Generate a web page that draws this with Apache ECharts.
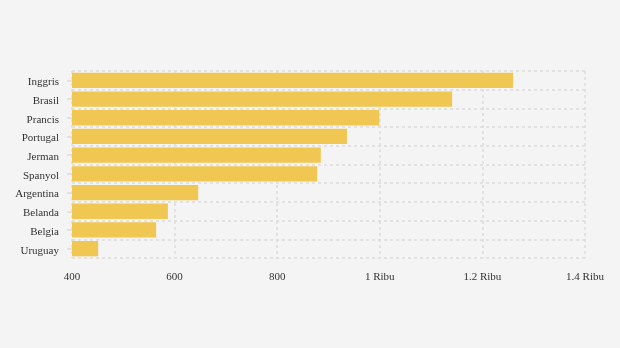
<!DOCTYPE html>
<html><head><meta charset="utf-8">
<script src="https://cdn.jsdelivr.net/npm/echarts@6/dist/echarts.min.js"></script>
<style>html,body{margin:0;padding:0;background:#f4f4f4;}#c{width:620px;height:348px;}</style>
</head><body><div id="c"></div>
<script>
const categories = ["Inggris","Brasil","Prancis","Portugal","Jerman","Spanyol","Argentina","Belanda","Belgia","Uruguay"];
const values = [1260, 1141, 999, 936, 885, 878, 646, 587, 564, 451];
const tickLabels = {400:"400",600:"600",800:"800",1000:"1 Ribu",1200:"1.2 Ribu",1400:"1.4 Ribu"};

const chart = echarts.init(document.getElementById('c'));
const font = "'Liberation Serif', 'Times New Roman', serif";
chart.setOption({
  backgroundColor: '#f4f4f4',
  animation: false,
  grid: {left: 72, right: 35, top: 71, bottom: 90, containLabel: false},
  xAxis: {
    type: 'value', min: 400, max: 1400, interval: 200,
    axisLine: {show: false}, axisTick: {show: false},
    axisLabel: {fontFamily: font, fontSize: 11, color: '#333', margin: 14,
      formatter: v => tickLabels[v] !== undefined ? tickLabels[v] : String(v)},
    splitLine: {show: true, lineStyle: {color: '#dcdcdc', type: [3,3], width: 1.5}}
  },
  yAxis: {
    type: 'category', data: categories, inverse: true,
    axisLine: {show: false},
    axisTick: {show: true, alignWithLabel: true, length: 5, lineStyle: {color: '#dcdcdc', width: 1.5}},
    axisLabel: {fontFamily: font, fontSize: 11, color: '#333', margin: 13,
      formatter: v => '{a|' + v + '}',
      rich: {a: {fontFamily: font, fontSize: 11, color: '#333', padding: [4,0,0,0]}}},
    splitLine: {show: true, lineStyle: {color: '#dcdcdc', type: [3,3], width: 1.5}}
  },
  series: [{
    type: 'bar', data: values, barCategoryGap: '18%',
    itemStyle: {color: '#f0c752'}
  }]
});
</script></body></html>
